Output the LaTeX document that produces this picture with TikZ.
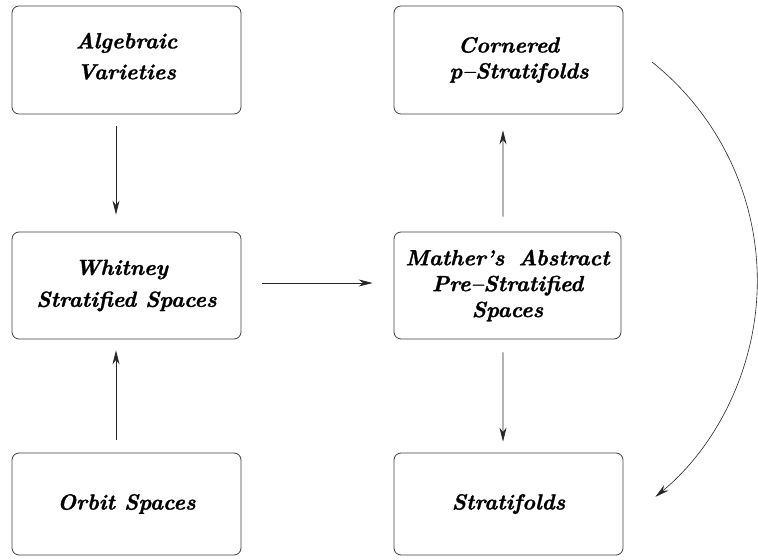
\documentclass[tikz,border=0pt]{standalone}
\usepackage{fontspec}
\newfontfamily\boxfont[FakeBold=1.2,Ligatures=TeX]{Latin Modern Roman}
\usetikzlibrary{arrows.meta}
\begin{document}
\begin{tikzpicture}[x=1bp,y=1bp,
  box/.style={draw=black!75, line width=0.8bp, rounded corners=7bp,
    minimum width=229bp, align=center, inner sep=0pt,
    font=\boxfont\fontsize{22}{26}\selectfont\bfseries\itshape},
  conn/.style={draw=black!85, line width=0.75bp, -{Stealth[length=14bp,width=7bp,inset=4.5bp]}}]
\useasboundingbox (0,0) rectangle (758,560);
\node[box, minimum height=108bp] (A) at (126.5,500) {Algebraic\\[5bp]Varieties\\[-18bp]\mbox{}};
\node[box, minimum height=107bp] (W) at (126.5,274.5) {\hspace*{-10bp}Whitney\\[6bp]Stratified Spaces};
\node[box, minimum height=102bp] (O) at (126.5,56) {Orbit Spaces};
\node[box, minimum height=108bp] (C) at (508.5,500) {Cornered\\\hspace*{21bp}p–Stratifolds};
\node[box, minimum height=107bp, minimum width=227bp] (M) at (507.5,274.5) {Mather’s\hspace{14bp}Abstract\\Pre–Stratified\\Spaces};
\node[box, minimum height=102bp] (S) at (508.5,56) {Stratifolds};
\draw[conn, shorten <=12bp, shorten >=17bp] ([xshift=-10.5bp]A.south) -- ([xshift=-10.5bp]W.north);
\draw[conn, shorten <=13bp, shorten >=11bp] ([xshift=-10.5bp]O.north) -- ([xshift=-10.5bp]W.south);
\draw[conn, shorten <=21bp, shorten >=21bp] ([yshift=2.5bp]W.east) -- ([yshift=2.5bp]M.west);
\draw[conn, shorten <=15bp, shorten >=16bp] ([xshift=-4.5bp]M.north) -- ([xshift=-5.5bp]C.south);
\draw[conn, shorten <=13bp, shorten >=11bp] ([xshift=-4.5bp]M.south) -- ([xshift=-5.5bp]S.north);
\coordinate (cs) at (652,498);
\draw[conn, line width=0.6bp] (cs) arc[start angle=51.4, end angle=-50.5, radius=280bp] coordinate (ce);
\end{tikzpicture}
\end{document}
